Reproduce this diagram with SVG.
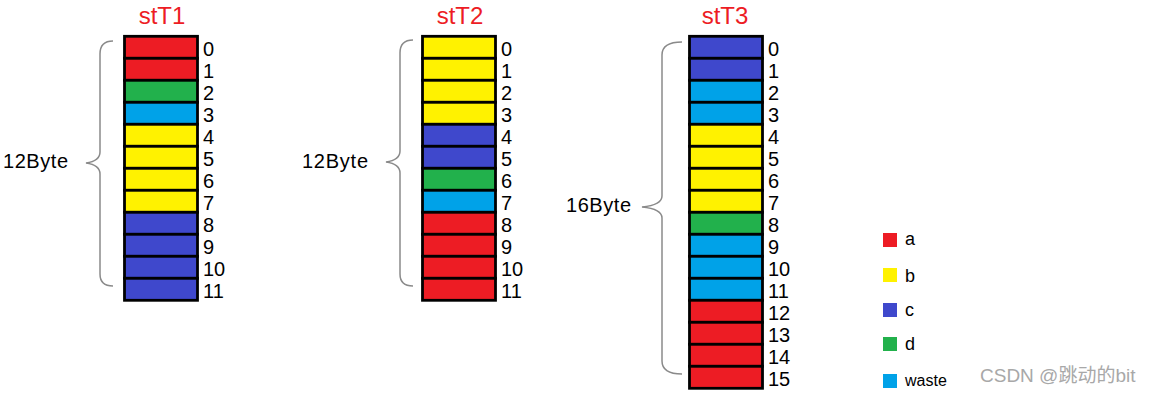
<svg xmlns="http://www.w3.org/2000/svg" width="1151" height="393" viewBox="0 0 1151 393">
<style>
.cell{stroke:#000;stroke-width:2.8}
.R{fill:#ED1C24}.Y{fill:#FFF200}.G{fill:#22B14C}.B{fill:#3F48CC}.L{fill:#00A2E8}
.num{font-family:"Liberation Sans",Arial,sans-serif;font-size:20px;fill:#000}
.title{font-family:"Liberation Sans",Arial,sans-serif;font-size:24px;fill:#ED1C24;text-anchor:middle}
.size{font-family:"Liberation Sans",Arial,sans-serif;font-size:20px;fill:#000}
.brace{fill:none;stroke:#8a8a8a;stroke-width:1.5}
.leg{font-family:"Liberation Sans",Arial,sans-serif;font-size:18px;fill:#000}
.wm{font-family:"Liberation Sans","Noto Sans CJK SC",sans-serif;font-size:19px;fill:#a8a8a8}
</style>
<rect width="1151" height="393" fill="#fff"/>

<g id="stT1">
<text class="title" x="162" y="24">stT1</text>
<rect class="cell R" x="124.5" y="36.3" width="73" height="22"/>
<rect class="cell R" x="124.5" y="58.3" width="73" height="22"/>
<rect class="cell G" x="124.5" y="80.3" width="73" height="22"/>
<rect class="cell L" x="124.5" y="102.3" width="73" height="22"/>
<rect class="cell Y" x="124.5" y="124.3" width="73" height="22"/>
<rect class="cell Y" x="124.5" y="146.3" width="73" height="22"/>
<rect class="cell Y" x="124.5" y="168.3" width="73" height="22"/>
<rect class="cell Y" x="124.5" y="190.3" width="73" height="22"/>
<rect class="cell B" x="124.5" y="212.3" width="73" height="22"/>
<rect class="cell B" x="124.5" y="234.3" width="73" height="22"/>
<rect class="cell B" x="124.5" y="256.3" width="73" height="22"/>
<rect class="cell B" x="124.5" y="278.3" width="73" height="22"/>
<g class="num">
<text x="203" y="56">0</text><text x="203" y="78">1</text><text x="203" y="100">2</text><text x="203" y="122">3</text>
<text x="203" y="144">4</text><text x="203" y="166">5</text><text x="203" y="188">6</text><text x="203" y="210">7</text>
<text x="203" y="232">8</text><text x="203" y="254">9</text><text x="203" y="276">10</text><text x="203" y="298">11</text>
</g>
<path class="brace" d="M113,41 Q100,41 100,54 L100,152 Q100,161 86,163 Q100,165 100,174 L100,274 Q100,286 113,286"/>
<text class="size" x="3" y="168" textLength="65">12Byte</text>
</g>

<g id="stT2">
<text class="title" x="460" y="24">stT2</text>
<rect class="cell Y" x="422.5" y="36.3" width="73" height="22"/>
<rect class="cell Y" x="422.5" y="58.3" width="73" height="22"/>
<rect class="cell Y" x="422.5" y="80.3" width="73" height="22"/>
<rect class="cell Y" x="422.5" y="102.3" width="73" height="22"/>
<rect class="cell B" x="422.5" y="124.3" width="73" height="22"/>
<rect class="cell B" x="422.5" y="146.3" width="73" height="22"/>
<rect class="cell G" x="422.5" y="168.3" width="73" height="22"/>
<rect class="cell L" x="422.5" y="190.3" width="73" height="22"/>
<rect class="cell R" x="422.5" y="212.3" width="73" height="22"/>
<rect class="cell R" x="422.5" y="234.3" width="73" height="22"/>
<rect class="cell R" x="422.5" y="256.3" width="73" height="22"/>
<rect class="cell R" x="422.5" y="278.3" width="73" height="22"/>
<g class="num">
<text x="501" y="56">0</text><text x="501" y="78">1</text><text x="501" y="100">2</text><text x="501" y="122">3</text>
<text x="501" y="144">4</text><text x="501" y="166">5</text><text x="501" y="188">6</text><text x="501" y="210">7</text>
<text x="501" y="232">8</text><text x="501" y="254">9</text><text x="501" y="276">10</text><text x="501" y="298">11</text>
</g>
<path class="brace" d="M413,40 Q400,40 400,53 L400,151 Q400,160 386,162 Q400,164 400,173 L400,274 Q400,286 413,286"/>
<text class="size" x="302" y="168" textLength="66">12Byte</text>
</g>

<g id="stT3">
<text class="title" x="725" y="24">stT3</text>
<rect class="cell B" x="689.5" y="36.3" width="73" height="22"/>
<rect class="cell B" x="689.5" y="58.3" width="73" height="22"/>
<rect class="cell L" x="689.5" y="80.3" width="73" height="22"/>
<rect class="cell L" x="689.5" y="102.3" width="73" height="22"/>
<rect class="cell Y" x="689.5" y="124.3" width="73" height="22"/>
<rect class="cell Y" x="689.5" y="146.3" width="73" height="22"/>
<rect class="cell Y" x="689.5" y="168.3" width="73" height="22"/>
<rect class="cell Y" x="689.5" y="190.3" width="73" height="22"/>
<rect class="cell G" x="689.5" y="212.3" width="73" height="22"/>
<rect class="cell L" x="689.5" y="234.3" width="73" height="22"/>
<rect class="cell L" x="689.5" y="256.3" width="73" height="22"/>
<rect class="cell L" x="689.5" y="278.3" width="73" height="22"/>
<rect class="cell R" x="689.5" y="300.3" width="73" height="22"/>
<rect class="cell R" x="689.5" y="322.3" width="73" height="22"/>
<rect class="cell R" x="689.5" y="344.3" width="73" height="22"/>
<rect class="cell R" x="689.5" y="366.3" width="73" height="22"/>
<g class="num">
<text x="768" y="56">0</text><text x="768" y="78">1</text><text x="768" y="100">2</text><text x="768" y="122">3</text>
<text x="768" y="144">4</text><text x="768" y="166">5</text><text x="768" y="188">6</text><text x="768" y="210">7</text>
<text x="768" y="232">8</text><text x="768" y="254">9</text><text x="768" y="276">10</text><text x="768" y="298">11</text>
<text x="768" y="320">12</text><text x="768" y="342">13</text><text x="768" y="364">14</text><text x="768" y="386">15</text>
</g>
<path class="brace" d="M682,42 Q662,42 662,55 L662,196 Q662,205 642,207 Q662,209 662,218 L662,361 Q662,374 682,374"/>
<text class="size" x="566" y="212" textLength="65">16Byte</text>
</g>

<g id="legend">
<rect class="R" x="883" y="233" width="14" height="14"/><text class="leg" x="905" y="245">a</text>
<rect class="Y" x="883" y="268" width="14" height="14"/><text class="leg" x="905" y="282">b</text>
<rect class="B" x="883" y="303" width="14" height="14"/><text class="leg" x="905" y="316">c</text>
<rect class="G" x="883" y="337" width="14" height="14"/><text class="leg" x="905" y="350">d</text>
<rect class="L" x="883" y="374" width="14" height="14"/><text class="leg" x="905" y="386" style="font-size:16px">waste</text>
</g>

<text class="wm" x="980" y="382">CSDN @跳动的bit</text>
</svg>
